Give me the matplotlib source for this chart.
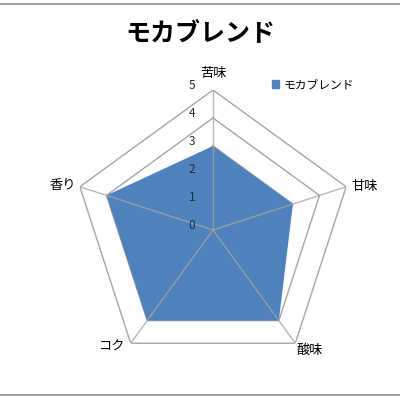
import numpy as np
import matplotlib
matplotlib.use("Agg")
import matplotlib.pyplot as plt
from matplotlib.patches import Patch
from matplotlib.lines import Line2D

plt.rcParams['font.family'] = ['Noto Sans CJK JP', 'DejaVu Sans']

title = "モカブレンド"
series_name = "モカブレンド"
categories = ["苦味", "甘味", "酸味", "コク", "香り"]
values = [3, 3, 4, 4, 4]
ticks = [0, 1, 2, 3, 4, 5]

fill_color = "#4F81BD"
grid_color = "#A6A6A6"

fig = plt.figure(figsize=(4, 4), dpi=100)
ax = fig.add_axes([0.1825, 0.075, 0.7, 0.7], projection='polar')
ax.set_theta_offset(np.pi / 2)
ax.set_theta_direction(-1)
ax.set_frame_on(False)
ax.grid(False)
ax.set_xticks([])
ax.set_yticks([])
ax.set_ylim(0, 5)

n = len(categories)
angles = np.linspace(0, 2 * np.pi, n, endpoint=False)
ang_c = np.concatenate([angles, angles[:1]])

# rings
for t in ticks[1:]:
    ax.plot(ang_c, [t] * (n + 1), color=grid_color, lw=1.0, zorder=1)

# fill
vals_c = values + values[:1]
ax.fill(ang_c, vals_c, color=fill_color, zorder=2, lw=0)

# spokes
for a in angles:
    ax.plot([a, a], [0, ticks[-1]], color=grid_color, lw=1.0, zorder=3, alpha=0.8)

# tick labels
for t in ticks:
    ax.annotate(str(t), xy=(0, t), xytext=(-15, 3), textcoords='offset points',
                ha='center', va='center', fontsize=8.5, color='#1F2A44', zorder=5)

# category labels
offsets = [(0, 12, 'center', 'center'),
           (4, 0, 'left', 'center'),
           (1, -5, 'left', 'center'),
           (-4, -3, 'right', 'center'),
           (-3, 1, 'right', 'center')]
for a, lab, (dx, dy, ha, va) in zip(angles, categories, offsets):
    ax.annotate(lab, xy=(a, ticks[-1]), xytext=(dx, dy), textcoords='offset points',
                ha=ha, va=va, fontsize=9.5, color='black', annotation_clip=False)

fig.suptitle(title, x=0.5, y=0.915, fontsize=18, fontweight='bold', va='center')

handle = Patch(facecolor=fill_color, edgecolor=fill_color)
fig.legend([handle], [series_name], loc='center left', bbox_to_anchor=(0.665, 0.788),
           frameon=False, fontsize=8.5, handlelength=0.6, handleheight=0.6,
           handletextpad=0.4, borderpad=0)

# chart area border lines
fig.add_artist(Line2D([0, 1], [1 - 3.5 / 400, 1 - 3.5 / 400], color='#8C8C8C', lw=1.2,
                      transform=fig.transFigure))
fig.add_artist(Line2D([0, 1], [1 - 394.5 / 400, 1 - 394.5 / 400], color='#8C8C8C', lw=1.2,
                      transform=fig.transFigure))

fig.savefig("out.png", dpi=100, facecolor='white')
